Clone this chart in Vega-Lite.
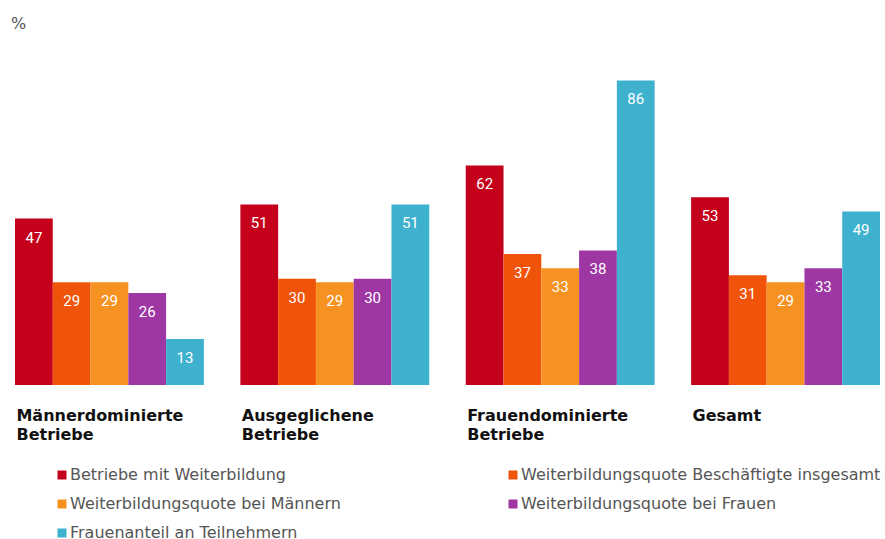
{
  "$schema": "https://vega.github.io/schema/vega-lite/v6.json",
  "width": 885,
  "height": 335,
  "autosize": {"type": "none"},
  "padding": {"left": 0, "top": 50, "right": 0, "bottom": 154},
  "config": {"view": {"stroke": null}, "font": "DejaVu Sans"},
  "title": {"text": "%", "anchor": "start", "frame": "group", "dx": 11, "offset": 18, "fontSize": 16, "fontWeight": "normal", "color": "#555555", "font": "DejaVu Sans"},
  "data": {"values": [
    {"Gruppe": "Männerdominierte Betriebe", "Serie": "Betriebe mit Weiterbildung", "Wert": 47},
    {"Gruppe": "Männerdominierte Betriebe", "Serie": "Weiterbildungsquote Beschäftigte insgesamt", "Wert": 29},
    {"Gruppe": "Männerdominierte Betriebe", "Serie": "Weiterbildungsquote bei Männern", "Wert": 29},
    {"Gruppe": "Männerdominierte Betriebe", "Serie": "Weiterbildungsquote bei Frauen", "Wert": 26},
    {"Gruppe": "Männerdominierte Betriebe", "Serie": "Frauenanteil an Teilnehmern", "Wert": 13},
    {"Gruppe": "Ausgeglichene Betriebe", "Serie": "Betriebe mit Weiterbildung", "Wert": 51},
    {"Gruppe": "Ausgeglichene Betriebe", "Serie": "Weiterbildungsquote Beschäftigte insgesamt", "Wert": 30},
    {"Gruppe": "Ausgeglichene Betriebe", "Serie": "Weiterbildungsquote bei Männern", "Wert": 29},
    {"Gruppe": "Ausgeglichene Betriebe", "Serie": "Weiterbildungsquote bei Frauen", "Wert": 30},
    {"Gruppe": "Ausgeglichene Betriebe", "Serie": "Frauenanteil an Teilnehmern", "Wert": 51},
    {"Gruppe": "Frauendominierte Betriebe", "Serie": "Betriebe mit Weiterbildung", "Wert": 62},
    {"Gruppe": "Frauendominierte Betriebe", "Serie": "Weiterbildungsquote Beschäftigte insgesamt", "Wert": 37},
    {"Gruppe": "Frauendominierte Betriebe", "Serie": "Weiterbildungsquote bei Männern", "Wert": 33},
    {"Gruppe": "Frauendominierte Betriebe", "Serie": "Weiterbildungsquote bei Frauen", "Wert": 38},
    {"Gruppe": "Frauendominierte Betriebe", "Serie": "Frauenanteil an Teilnehmern", "Wert": 86},
    {"Gruppe": "Gesamt", "Serie": "Betriebe mit Weiterbildung", "Wert": 53},
    {"Gruppe": "Gesamt", "Serie": "Weiterbildungsquote Beschäftigte insgesamt", "Wert": 31},
    {"Gruppe": "Gesamt", "Serie": "Weiterbildungsquote bei Männern", "Wert": 29},
    {"Gruppe": "Gesamt", "Serie": "Weiterbildungsquote bei Frauen", "Wert": 33},
    {"Gruppe": "Gesamt", "Serie": "Frauenanteil an Teilnehmern", "Wert": 49}
  ]},
  "encoding": {
    "x": {"field": "Gruppe", "type": "nominal", "sort": null,
      "scale": {"range": [15, 880], "paddingInner": 0.162, "paddingOuter": 0},
      "axis": {"title": null, "domain": false, "ticks": false, "labelAngle": 0,
        "labelAlign": "left", "labelBaseline": "top", "labelOffset": -93, "labelPadding": 22,
        "labelFontWeight": "bold", "labelFontSize": 16, "labelColor": "#111111", "labelLineHeight": 19,
        "labelExpr": "split(datum.value, ' ')", "labelFont": "DejaVu Sans"}},
    "xOffset": {"field": "Serie", "type": "nominal", "sort": null, "scale": {"paddingInner": 0, "paddingOuter": 0}},
    "y": {"field": "Wert", "type": "quantitative", "scale": {"domain": [0, 94.6]}, "axis": null}
  },
  "layer": [
    {"mark": {"type": "bar"},
     "encoding": {
       "color": {"field": "Serie", "type": "nominal", "sort": null,
         "scale": {"domain": ["Betriebe mit Weiterbildung", "Weiterbildungsquote Beschäftigte insgesamt", "Weiterbildungsquote bei Männern", "Weiterbildungsquote bei Frauen", "Frauenanteil an Teilnehmern"],
                   "range": ["#C5001B", "#F0540A", "#F59222", "#9E36A4", "#3EB1CF"]},
         "legend": {"title": null, "orient": "none", "direction": "horizontal", "legendX": 54, "legendY": 417, "columns": 2, "columnPadding": 164,
           "rowPadding": 13, "symbolType": "square", "symbolSize": 81, "symbolStrokeWidth": 0, "labelOffset": 0,
           "labelFontSize": 16, "labelColor": "#555555", "labelFont": "DejaVu Sans", "labelLimit": 500}}
     }},
    {"mark": {"type": "text", "color": "white", "baseline": "middle", "dy": 19, "fontSize": 15, "font": "Roboto"},
     "encoding": {"text": {"field": "Wert", "type": "quantitative"}}}
  ]
}
